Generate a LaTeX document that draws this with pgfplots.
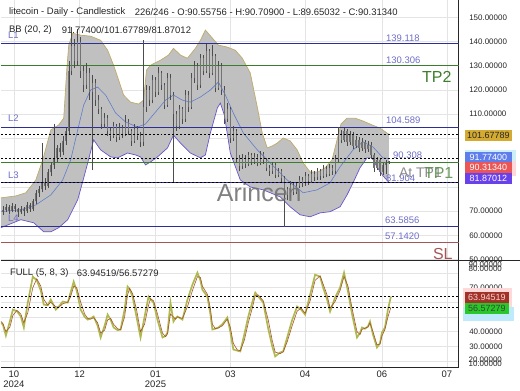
\documentclass[border=0pt]{standalone}
\usepackage{fontspec}
\setmainfont{Liberation Sans}
\usepackage{pgfplots}
\pgfplotsset{compat=1.18}
\usepackage{pgfplotstable}
\usepgfplotslibrary{fillbetween}

\definecolor{navyL}{RGB}{45,45,150}
\definecolor{tpgreen}{RGB}{60,125,45}
\definecolor{slred}{RGB}{165,85,85}
\definecolor{lbl}{RGB}{110,110,200}
\definecolor{bbupc}{RGB}{190,170,105}
\definecolor{bblowc}{RGB}{105,85,205}
\definecolor{bbmidc}{RGB}{95,125,205}
\definecolor{bandfill}{RGB}{192,192,192}
\definecolor{stk}{RGB}{175,185,80}
\definecolor{std}{RGB}{165,85,45}
\definecolor{gridc}{RGB}{228,228,228}

% candles: x (pixel position), open, high, low, close
\pgfplotstableread{
x o h l c
2 69.5 72.0 68.5 70.5
5 70.5 73.0 69.8 71.8
8 71.8 72.5 69.0 70.2
11 70.2 73.2 69.5 72.0
14 72.0 72.8 69.6 70.8
17 70.8 71.5 67.8 69.5
20 69.5 72.2 68.9 71.0
23 71.0 71.8 68.2 70.0
26 70.0 73.6 69.2 72.5
29 72.5 73.5 69.8 71.0
32 71.0 75.2 70.2 74.0
35 74.0 78.8 73.0 77.5
38 77.5 80.5 76.0 79.0
41 79.0 98.0 77.8 82.0
44 82.0 83.5 78.8 80.5
47 80.5 87.5 79.6 86.0
50 86.0 90.5 84.5 89.0
53 89.0 106.0 87.5 92.0
56 92.0 97.5 90.5 96.0
59 96.0 98.0 92.5 94.5
62 94.5 101.0 93.0 99.0
65 99.0 104.5 97.5 103.0
68 103.0 132.0 102.0 128.0
71 128.0 146.0 126.0 138.0
74 138.0 141.0 129.0 132.0
77 132.0 145.0 130.0 140.0
80 140.0 142.0 125.0 128.0
83 128.0 130.0 119.0 122.0
86 122.0 131.0 120.5 127.0
89 127.0 129.0 116.0 119.0
92 119.0 126.0 87.0 123.0
95 123.0 124.5 113.5 116.0
98 116.0 118.0 110.0 112.0
101 112.0 113.0 104.0 106.0
104 106.0 110.5 104.5 108.5
107 108.5 109.5 101.0 103.0
110 103.0 104.5 99.0 101.0
113 101.0 107.0 100.0 105.0
116 105.0 106.0 98.5 100.5
119 100.5 106.5 99.5 104.5
122 104.5 105.5 100.0 102.0
125 102.0 109.5 101.0 107.0
128 107.0 108.0 101.5 103.0
131 103.0 104.0 97.0 99.0
134 99.0 106.0 98.0 104.0
137 104.0 105.0 99.5 101.0
140 101.0 102.5 96.5 98.5
143 98.5 140.5 97.0 113.0
146 113.0 122.0 111.0 120.0
149 120.0 121.5 113.5 116.0
152 116.0 126.0 114.5 124.0
155 124.0 125.5 117.0 119.0
158 119.0 129.5 118.0 127.0
161 127.0 128.0 120.0 122.0
164 122.0 123.0 112.0 114.0
167 114.0 127.0 113.0 125.0
170 125.0 126.5 116.0 118.0
173 118.0 119.0 82.0 110.0
176 110.0 111.5 103.0 105.0
179 105.0 114.0 104.0 112.0
182 112.0 113.0 106.0 108.0
185 108.0 120.0 107.0 118.0
188 118.0 119.5 111.0 113.0
191 113.0 127.0 112.0 125.0
194 125.0 132.0 123.0 130.0
197 130.0 131.0 120.0 122.0
200 122.0 135.0 121.0 133.0
203 133.0 134.5 126.0 128.0
206 128.0 139.0 127.0 136.0
209 136.0 137.0 125.0 127.0
212 127.0 138.5 126.0 134.0
215 134.0 135.0 119.0 121.0
218 121.0 132.0 120.0 130.0
221 130.0 131.0 118.0 120.0
224 120.0 121.5 106.0 108.0
227 108.0 114.5 107.0 112.0
230 112.0 113.0 98.0 100.0
233 100.0 105.0 99.0 103.0
236 103.0 104.0 90.0 92.0
239 92.0 93.0 86.5 88.5
242 88.5 93.5 87.5 92.0
245 92.0 93.0 88.0 89.5
248 89.5 94.5 88.5 93.0
251 93.0 94.0 89.0 90.5
254 90.5 94.0 89.5 92.5
257 92.5 93.5 88.5 90.0
260 90.0 95.0 89.0 93.5
263 93.5 94.5 89.5 91.0
266 91.0 92.0 86.5 88.0
269 88.0 89.0 84.5 86.5
272 86.5 90.5 85.5 89.0
275 89.0 90.0 83.5 85.0
278 85.0 88.0 84.0 86.5
281 86.5 87.5 82.0 83.5
284 83.5 84.5 63.6 79.0
287 79.0 80.0 74.5 76.5
290 76.5 82.5 75.5 81.0
293 81.0 82.0 76.5 78.0
296 78.0 82.0 77.0 80.5
299 80.5 84.5 79.5 83.0
302 83.0 84.0 80.0 81.5
305 81.5 86.0 80.5 84.5
308 84.5 85.5 81.0 82.5
311 82.5 87.0 81.5 85.5
314 85.5 86.5 82.5 84.0
317 84.0 88.0 83.0 86.5
320 86.5 87.5 83.0 84.5
323 84.5 89.0 83.5 87.5
326 87.5 88.5 84.0 85.5
329 85.5 89.5 84.5 88.0
332 88.0 89.0 85.0 86.5
335 86.5 93.0 85.5 91.5
338 91.5 104.8 90.5 102.0
341 102.0 103.5 98.0 99.5
344 99.5 104.5 98.5 103.0
347 103.0 104.0 97.0 98.5
350 98.5 103.0 97.5 101.5
353 101.5 102.5 95.5 97.0
356 97.0 101.0 96.0 99.5
359 99.5 100.5 94.5 96.0
362 96.0 100.0 95.0 98.5
365 98.5 99.5 94.0 95.5
368 95.5 99.0 94.5 97.5
371 97.5 98.5 91.5 93.0
374 93.0 94.0 86.0 88.0
377 88.0 92.5 87.0 91.0
380 91.0 92.0 84.5 86.0
383 86.0 90.0 85.0 89.0
386 89.0 91.0 85.5 90.2
389 90.56 90.71 89.65 90.31
}\candles

\pgfplotstableread{
x y
0 75.5
15 76.3
25 77.6
35 82.9
42 91.2
50 103.5
58 105.6
63 108.4
66 128.2
68 138.5
72 143.4
80 142.6
90 142.2
100 140.5
107 136.4
113 130.2
118 124.1
123 117.9
130 115.0
138 114.2
143 115.8
146 128.2
150 130.2
160 132.3
168 134.4
173 137.2
180 134.4
187 133.1
195 137.2
200 140.5
205 144.7
212 141.4
218 138.5
227 137.7
235 136.4
242 133.1
250 127.0
257 113.0
262 102.3
267 96.1
272 96.9
277 98.1
283 100.2
290 99.0
297 95.3
303 89.9
310 86.2
318 86.2
325 87.9
332 91.2
337 99.4
341 106.0
347 108.4
355 108.4
363 107.2
372 105.6
380 104.3
389 101.68
}\bbup

\pgfplotstableread{
x y
0 63.2
20 66.5
33 65.2
43 61.5
50 61.5
58 63.2
67 66.5
77 74.7
83 83.7
87 89.9
93 99.4
100 95.3
110 92.4
117 92.0
127 94.0
135 93.2
140 92.4
145 89.1
150 90.3
157 92.4
167 96.1
173 101.4
180 98.1
190 94.0
200 92.0
205 93.2
210 102.3
217 112.6
220 114.6
224 109.7
230 94.0
240 82.9
250 80.0
263 78.8
280 75.9
290 71.8
300 68.5
310 67.7
320 69.3
330 69.8
340 71.8
347 76.7
353 81.7
360 87.9
367 92.0
372 92.0
377 88.3
383 84.6
389 81.87
}\bblo

\pgfplotstableread{
x y
0 69.8
20 70.6
35 72.6
50 76.7
62 82.9
70 91.2
77 103.5
83 113.8
90 120.0
97 121.2
105 117.9
115 110.5
125 106.8
137 104.7
145 106.0
155 110.9
165 115.8
173 117.9
182 115.8
190 115.0
200 117.1
210 120.0
218 123.3
225 117.9
233 110.5
243 102.3
257 95.3
270 89.9
287 82.9
303 77.6
317 78.8
330 81.7
340 88.3
353 95.3
363 98.6
373 96.5
383 92.0
389 91.77
}\bbmid

\pgfplotstableread{
x y
0 46
2 44.8
5 37.3
9 47
12 55
16 54
20 50.3
23 42.8
27 60
32 77.5
36 75
40 68
43 58.4
47 58
50 61.8
55 55
58 57
62 60.5
67 59.8
70 67
73 74.1
76 68
80 55
84 50
87 48.2
90 49
93 50.3
97 44
100 36
104 44
107 51.6
110 48
113 42.8
117 41
120 41.4
124 55
127 70.7
129 69
132 63.9
136 50
140 36
144 50
148 63.9
150 62
153 59.8
157 48
162 36
165 37
167 39.4
170 59.8
173 46.9
175 49
177 50.3
182 48.2
187 61.8
192 72
197 80.2
200 75
202 68.6
207 63.9
210 52
212 41.4
215 42
218 42.8
222 45
227 49.6
230 40
233 27.8
237 27
240 26.5
244 38
248 50.3
252 60
255 66.6
258 64
263 59.8
268 42
272 30
275 23.1
280 25.8
283 26.5
287 36
292 48
297 57.1
301 55
305 51.6
310 65.2
315 78.8
320 77.5
323 70
327 62
330 53.7
335 63.2
340 70
344 80.2
348 67.3
352 52
357 36
360 39
362 42.8
365 42
368 43.5
370 46.9
373 38
377 29.2
380 32
382 39.4
385 42.8
388 55
391 63.9
}\stochk

\pgfplotstableread{
x y
0 47
2 45.5
5 40
9 43
12 51
16 54.5
20 52
23 46
27 53
32 70
36 76
40 71
43 62
47 58
50 60
55 57
58 56.5
62 59
67 60
70 64
73 71
76 70
80 60
84 52
87 49
90 48.5
93 49.5
97 46
100 39
104 41
107 48
110 49
113 45
117 42
120 41.2
124 50
127 65
129 69.5
132 66
136 55
140 40
144 45
148 58
150 62.5
153 61
157 52
162 39
165 36.5
167 38.5
170 52
173 50
175 48.5
177 50
182 49
187 57
192 68
197 77.5
200 77
202 71
207 65.5
210 56
212 45
215 42
218 42.5
222 44
227 48.5
230 43
233 32
237 27.5
240 27
244 34
248 46
252 56
255 64.5
258 65
263 61
268 48
272 34
275 26
280 25
283 26.2
287 33
292 44
297 54
301 56
305 52.5
310 61
315 75
320 78
323 72.5
327 65
330 56
335 60.5
340 68
344 77.5
348 71
352 56
357 40
360 38
362 41.5
365 42.3
368 43.2
370 46
373 40
377 31
380 31.5
382 37
385 41.5
388 50
391 56.6
}\stochd

\newcommand{\fs}[1]{\fontsize{#1}{#1}\selectfont}

\begin{document}
\begin{tikzpicture}[x=1pt,y=1pt]

% ---------------- main price panel ----------------
\begin{axis}[
  at={(0pt,129pt)}, anchor=south west, scale only axis,
  width=459pt, height=261pt,
  xmin=0, xmax=459, ymin=49.6, ymax=157,
  axis x line*=bottom, axis y line*=right,
  axis line style={black!85, line width=0.6pt},
  xtick={13,79,155,230,305,382,447}, xticklabels={},
  ytick={50,60,70,80,90,100,110,120,130,140,150},
  yticklabels={50.00000,60.00000,70.00000,,,,110.00000,120.00000,130.00000,140.00000,150.00000},
  yticklabel style={font=\fs{8}, text=black!85, xshift=7pt},
  major tick length=0pt,
  grid=major, grid style={gridc, line width=0.5pt},
]
\addplot[draw=none, name path=up, forget plot] table[x=x,y=y] {\bbup};
\addplot[draw=none, name path=lo, forget plot] table[x=x,y=y] {\bblo};
\addplot[fill=bandfill, draw=none] fill between[of=up and lo];
\addplot[bbupc, line width=0.7pt] table[x=x,y=y] {\bbup};
\addplot[bblowc, line width=0.7pt] table[x=x,y=y] {\bblo};
\addplot[bbmidc, line width=0.6pt] table[x=x,y=y] {\bbmid};

% level lines
\addplot[navyL, line width=0.8pt] coordinates {(0,139.118) (459,139.118)};
\addplot[tpgreen, line width=0.8pt] coordinates {(0,130.306) (459,130.306)};
\addplot[navyL, line width=0.8pt] coordinates {(0,104.589) (459,104.589)};
\addplot[tpgreen, line width=0.8pt] coordinates {(0,90.308) (459,90.308)};
\addplot[navyL, line width=0.8pt] coordinates {(0,81.904) (459,81.904)};
\addplot[navyL, line width=0.8pt] coordinates {(0,63.5856) (459,63.5856)};
\addplot[slred, line width=0.8pt] coordinates {(0,57.142) (459,57.142)};

% candles: wicks (low to high) and bodies (open to close)
\addplot[draw=none, mark=none, error bars/.cd, y dir=plus, y explicit, error mark=none,
  error bar style={draw=black!70, line width=0.45pt}]
  table[x=x, y=l, y error plus expr={\thisrow{h}-\thisrow{l}}] {\candles};
\addplot[draw=none, mark=none, error bars/.cd, y dir=plus, y explicit, error mark=none,
  error bar style={draw=black!55, line width=1.1pt}]
  table[x=x, y expr={min(\thisrow{o},\thisrow{c})}, y error plus expr={abs(\thisrow{c}-\thisrow{o})}] {\candles};

% current BB dashed lines
\addplot[black, line width=0.6pt, dash pattern=on 2pt off 2pt] coordinates {(0,101.67789) (459,101.67789)};
\addplot[black, line width=0.6pt, dash pattern=on 2pt off 2pt] coordinates {(0,91.774) (459,91.774)};
\addplot[black, line width=0.6pt, dash pattern=on 2pt off 2pt] coordinates {(0,81.87012) (459,81.87012)};
\end{axis}

% ---------------- stochastic panel ----------------
\begin{axis}[
  at={(0pt,22pt)}, anchor=south west, scale only axis,
  width=459pt, height=107pt,
  xmin=0, xmax=459, ymin=15.6, ymax=88.4,
  axis x line*=bottom, axis y line*=right,
  axis line style={black!85, line width=0.6pt},
  xtick={13,79,155,230,305,382,447},
  xticklabels={{10\\2024},12,{01\\2025},03,04,06,07},
  xticklabel style={font=\fs{9.5}, align=center, text=black!85},
  ytick={20,30,40,50,60,70,80},
  yticklabels={,30.00000,40.00000,50.00000,,70.00000,},
  yticklabel style={font=\fs{8}, text=black!85, xshift=7pt},
  major tick length=0pt,
  grid=major, grid style={gridc, line width=0.5pt},
]
\addplot[stk, line width=1.7pt] table[x=x,y=y] {\stochk};
\addplot[std, line width=0.6pt] table[x=x,y=y] {\stochd};
\addplot[black, line width=0.6pt, dash pattern=on 2pt off 2pt] coordinates {(0,63.94519) (459,63.94519)};
\addplot[black, line width=0.6pt, dash pattern=on 2pt off 2pt] coordinates {(0,56.57279) (459,56.57279)};
\end{axis}

% separator line between panels
\draw[black!85, line width=0.8pt] (0,129) -- (520,129);

% ---------------- texts ----------------
\node[anchor=west, inner sep=0, font=\fs{9.5}, text=black!85] at (8,378) {litecoin - Daily - Candlestick};
\node[anchor=west, inner sep=0, font=\fs{9.5}, text=black!85] at (134,378) {226/246 - O:90.55756 - H:90.70900 - L:89.65032 - C:90.31340};
\node[anchor=west, inner sep=0, font=\fs{9.5}, text=black!85] at (8,360) {BB (20, 2)};
\node[anchor=west, inner sep=0, font=\fs{9.5}, text=black!85] at (61,360) {91.77400/101.67789/81.87012};
\node[anchor=west, inner sep=0, font=\fs{9.5}, text=black!85] at (9,117) {FULL (5, 8, 3)};
\node[anchor=west, inner sep=0, font=\fs{9.5}, text=black!85] at (76,117) {63.94519/56.57279};

% level labels
\node[anchor=west, inner sep=0, font=\fs{9.5}, text=lbl] at (7,355) {L1};
\node[anchor=west, inner sep=0, font=\fs{9.5}, text=lbl] at (7,272) {L2};
\node[anchor=west, inner sep=0, font=\fs{9.5}, text=lbl] at (7,215) {L3};
\node[anchor=west, inner sep=0, font=\fs{9.5}, text=lbl] at (7,172) {L4};
\node[anchor=west, inner sep=0, font=\fs{9.5}, text=lbl] at (386,352) {139.118};
\node[anchor=west, inner sep=0, font=\fs{9.5}, text=lbl] at (386,330) {130.306};
\node[anchor=west, inner sep=0, font=\fs{9.5}, text=lbl] at (386,269.5) {104.589};
\node[anchor=west, inner sep=0, font=\fs{9.5}, text=lbl] at (393,235) {90.308};
\node[anchor=west, inner sep=0, font=\fs{9.5}, text=lbl] at (386,211.5) {81.904};
\node[anchor=west, inner sep=0, font=\fs{9.5}, text=lbl] at (385,169.5) {63.5856};
\node[anchor=west, inner sep=0, font=\fs{9.5}, text=lbl] at (385,153.5) {57.1420};

\node[anchor=center, inner sep=0, font=\fs{16}, text=tpgreen] at (437,313) {TP2};
\node[anchor=center, inner sep=0, font=\fs{16}, text=slred] at (443,136) {SL};
\node[anchor=west, inner sep=0, font=\fs{14}, text=black!45] at (399,217) {At TP1};
\node[anchor=west, inner sep=0, font=\fs{16}, text=tpgreen!85, opacity=0.9] at (424,217) {TP1};
\node[anchor=center, inner sep=0, font=\fs{25}, text=black!55, opacity=0.9] at (259,197) {Arincen};

% clamped axis labels of lower panel
\node[anchor=west, inner sep=0, font=\fs{8}, text=black!85] at (468.7,125) {90.00000};
\node[anchor=west, inner sep=0, font=\fs{8}, text=black!85] at (468.7,120.5) {80.00000};
\node[anchor=west, inner sep=0, font=\fs{8}, text=black!85] at (468.7,29.5) {20.00000};
\node[anchor=west, inner sep=0, font=\fs{8}, text=black!85] at (468.7,25.5) {10.00000};

% value boxes
\fill[cyan!20] (465,225) rectangle (516,240);
\fill[pink!60] (465,214) rectangle (516,229);
\fill[pink!60] (463,83) rectangle (512,102);
\fill[cyan!25] (463,68) rectangle (514,83);
\node[anchor=west, fill={rgb,255:red,212;green,170;blue,48}, text=black!85, inner sep=0.5pt, minimum width=47pt, minimum height=11pt, font=\fs{9}] at (465,254.5) {101.67789};
\node[anchor=west, fill={rgb,255:red,95;green,125;blue,235}, text=white, inner sep=0.5pt, minimum width=47pt, minimum height=11pt, font=\fs{9}] at (465,232.5) {91.77400};
\node[anchor=west, fill={rgb,255:red,235;green,85;blue,85}, text=white, inner sep=0.5pt, minimum width=47pt, minimum height=11pt, font=\fs{9}] at (465,222) {90.31340};
\node[anchor=west, fill={rgb,255:red,105;green,65;blue,235}, text=white, inner sep=0.5pt, minimum width=47pt, minimum height=11pt, font=\fs{9}] at (465,211.5) {81.87012};
\node[anchor=west, fill={rgb,255:red,160;green,50;blue,40}, text=pink!70, inner sep=0.5pt, minimum width=44pt, minimum height=11pt, font=\fs{9}] at (465,92.5) {63.94519};
\node[anchor=west, fill={rgb,255:red,40;green,200;blue,40}, text=black!75, inner sep=0.5pt, minimum width=44pt, minimum height=11pt, font=\fs{9}] at (465,81) {56.57279};

\path[use as bounding box] (0,0) rectangle (520,390);
\end{tikzpicture}
\end{document}
